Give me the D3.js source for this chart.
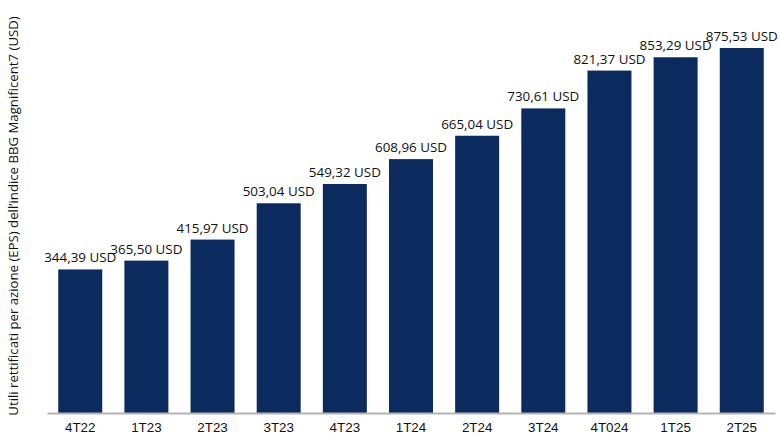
<!DOCTYPE html>
<html>
  <head>
    <meta charset="UTF-8">
    <script src="https://cdnjs.cloudflare.com/ajax/libs/d3/7.8.5/d3.min.js"></script>
    <style>
      body {
        margin: 0;
        background: #ffffff;
        font-family: 'Open Sans', 'Noto Sans', sans-serif;
      }
      .bar {
        fill: #0b2a5e;
      }
      .value-label {
        font-size: 13.4px;
        fill: #111;
      }
      .tick text {
        font-size: 13.4px;
        fill: #111;
      }
      .y-title {
        font-size: 13.2px;
        fill: #111;
      }
    </style>
  </head>
  <body>
    <svg id="chart"></svg>
    <script>
      const quarters = ['4T22', '1T23', '2T23', '3T23', '4T23', '1T24', '2T24', '3T24', '4T024', '1T25', '2T25']
      const eps = [344.39, 365.50, 415.97, 503.04, 549.32, 608.96, 665.04, 730.61, 821.37, 853.29, 875.53]
      const yTitle = 'Utili rettificati per azione (EPS) dell\u2019indice BBG Magnificent7 (USD)'

      const width = 780
      const height = 440
      const baseline = 413

      const svg = d3.select('#chart')
        .attr('width', width)
        .attr('height', height)

      const x = d3.scaleBand()
        .domain(quarters)
        .range([47, 775])
        .paddingInner(0.335)
        .paddingOuter(0.17)

      const y = d3.scaleLinear()
        .domain([0, 875.53])
        .range([baseline, 48])

      const fmt = v => d3.format('.2f')(v).replace('.', ',') + ' USD'

      svg.selectAll('.bar')
        .data(eps)
        .enter().append('rect')
        .attr('class', 'bar')
        .attr('x', (d, i) => x(quarters[i]))
        .attr('width', x.bandwidth())
        .attr('y', d => y(d))
        .attr('height', d => baseline - y(d))

      svg.selectAll('.value-label')
        .data(eps)
        .enter().append('text')
        .attr('class', 'value-label')
        .attr('text-anchor', 'middle')
        .attr('x', (d, i) => x(quarters[i]) + x.bandwidth() / 2)
        .attr('y', d => y(d) - 7)
        .text(d => fmt(d))

      const xAxis = svg.append('g')
        .attr('transform', `translate(0, ${baseline})`)
        .call(d3.axisBottom(x).tickSize(0).tickPadding(9))

      xAxis.select('.domain')
        .attr('stroke', '#b3b3b3')
        .attr('stroke-width', 2)

      svg.append('text')
        .attr('class', 'y-title')
        .attr('text-anchor', 'middle')
        .attr('transform', `translate(18, 216) rotate(-90)`)
        .text(yTitle)
    </script>
  </body>
</html>
